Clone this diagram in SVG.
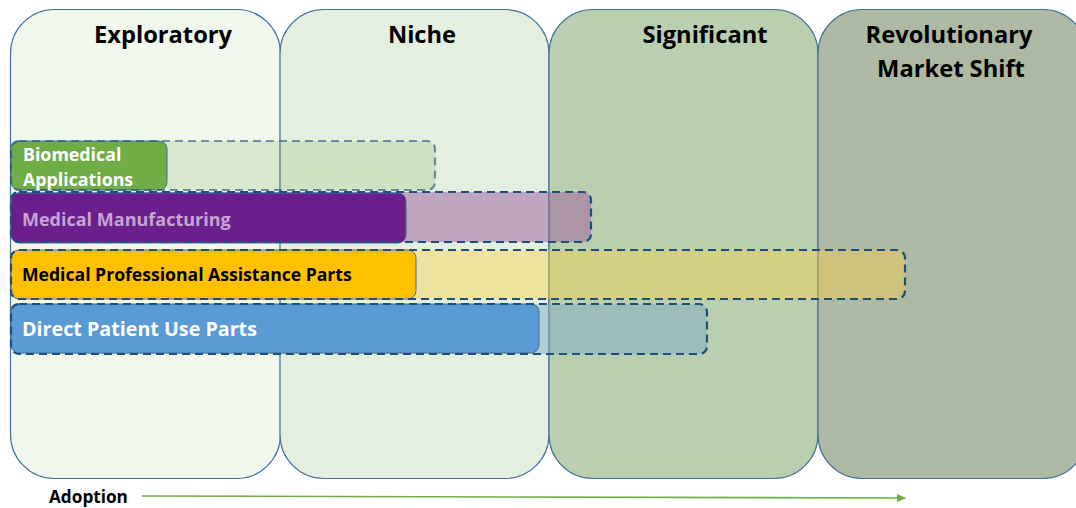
<svg xmlns="http://www.w3.org/2000/svg" width="1076" height="508" viewBox="0 0 1076 508">
<defs>
<style>
.col{stroke:#41719C;stroke-width:1.2}
.hd{font-family:"Open Sans","Liberation Sans",sans-serif;font-weight:bold;font-size:23.7px;fill:#000;text-anchor:middle}
.dash{fill:none;stroke:#1F4E79;stroke-width:2.2;stroke-dasharray:8 5}
.solid{stroke:#41719C;stroke-width:1}
.lbl{font-family:"Open Sans","Liberation Sans",sans-serif;font-weight:bold}
</style>
<marker id="ah" markerWidth="10" markerHeight="8" refX="8" refY="4" orient="auto" markerUnits="userSpaceOnUse">
<path d="M0,0 L9,4 L0,8 Z" fill="#70AD47"/>
</marker>
</defs>
<rect width="1076" height="508" fill="#fff"/>
<g id="col-exploratory">
<rect class="col" x="10.5" y="9.5" width="270" height="469" rx="44" fill="#F2F7EE"/>
<text class="hd" x="163" y="43">Exploratory</text>
</g>
<g id="col-niche">
<rect class="col" x="280" y="9.5" width="269" height="469" rx="44" fill="#E5EFDF"/>
<text class="hd" x="422" y="43">Niche</text>
</g>
<g id="col-significant">
<rect class="col" x="549" y="9.5" width="269" height="469" rx="44" fill="#BACFB0"/>
<text class="hd" x="705" y="43">Significant</text>
</g>
<g id="col-revolutionary">
<rect class="col" x="818" y="9.5" width="269" height="469" rx="44" fill="#AEB9A4"/>
<text class="hd" x="949" y="43">Revolutionary</text>
<text class="hd" x="951" y="77">Market Shift</text>
</g>
<g id="bar-biomedical">
<rect x="11" y="141" width="424" height="49" rx="8" fill="#70AD47" fill-opacity="0.2"/>
<rect class="solid" x="11" y="141" width="156" height="49" rx="8" fill="#70AD47"/>
<rect class="dash" x="11" y="141" width="424" height="49" rx="8" stroke-opacity="0.6"/>
<text class="lbl" x="23" y="161" font-size="17.8" fill="#fff">Biomedical</text>
<text class="lbl" x="23" y="186" font-size="17.8" fill="#fff">Applications</text>
</g>
<g id="bar-manufacturing">
<rect x="11" y="192" width="580" height="50" rx="8" fill="#9B5B9D" fill-opacity="0.5"/>
<rect class="solid" x="11" y="193" width="395" height="50" rx="8" fill="#6A1F8D"/>
<rect class="dash" x="11" y="192" width="580" height="50" rx="8"/>
<text class="lbl" x="22" y="226" font-size="18" fill="#C9A3D4">Medical Manufacturing</text>
</g>
<g id="bar-professional">
<rect x="11" y="250" width="894" height="49" rx="8" fill="#F9D246" fill-opacity="0.42"/>
<rect class="solid" x="11" y="250" width="405" height="49" rx="8" fill="#FFC000"/>
<rect class="dash" x="11" y="250" width="894" height="49" rx="8"/>
<text class="lbl" x="22" y="281" font-size="17.6" fill="#000">Medical Professional Assistance Parts</text>
</g>
<g id="bar-patient">
<rect x="11" y="304" width="696" height="50" rx="8" fill="#82ABC4" fill-opacity="0.5"/>
<rect class="solid" x="11" y="304" width="528" height="49" rx="8" fill="#5B9BD5"/>
<rect class="dash" x="11" y="304" width="696" height="50" rx="8"/>
<text class="lbl" x="22" y="336" font-size="19.7" fill="#fff">Direct Patient Use Parts</text>
</g>
<g id="connectors">
<line x1="142" y1="496" x2="905" y2="498" stroke="#70AD47" stroke-width="1.6" marker-end="url(#ah)"/>
</g>
<g id="axis-label">
<text class="lbl" x="49" y="503" font-size="17.2" fill="#000">Adoption</text>
</g>
</svg>
